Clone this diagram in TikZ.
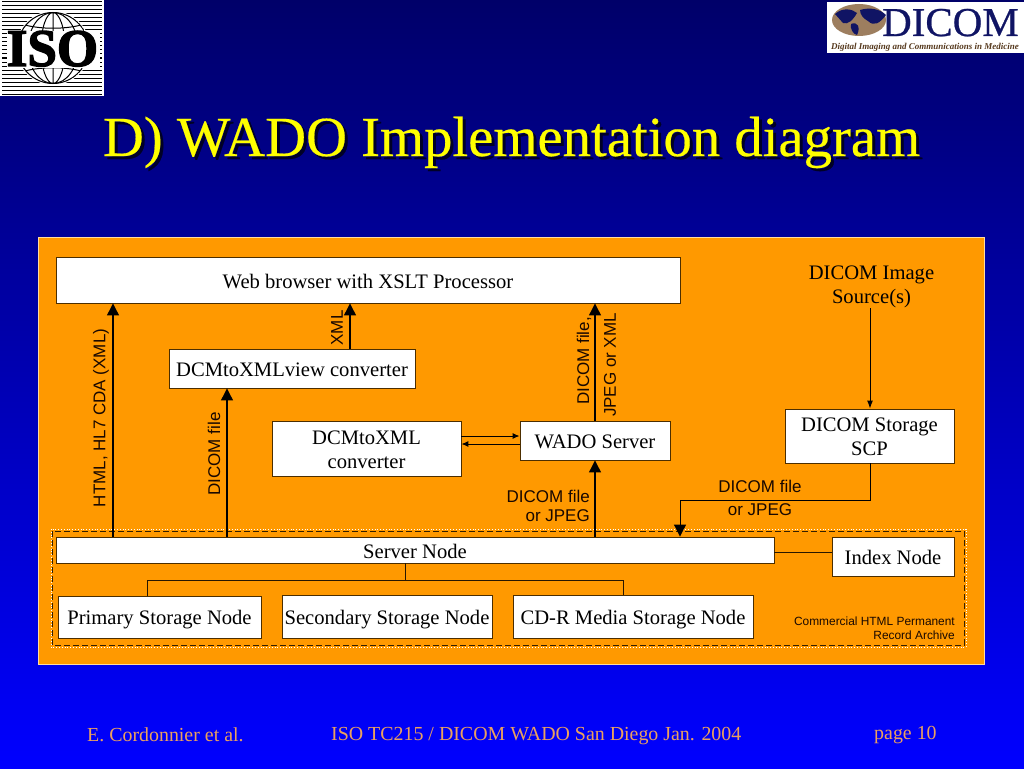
\documentclass[tikz,border=0pt]{standalone}
\usepackage{fontspec}
\setmainfont{Liberation Serif}
\newfontfamily\arialf{Liberation Sans}
\newfontfamily\isof[FakeBold=2.5]{Liberation Serif Bold}
\newfontfamily\dicomf[FakeBold=0.6]{Liberation Serif}
\newfontfamily\titlef[FakeBold=0.35]{Liberation Serif}
\usetikzlibrary{arrows.meta}
\definecolor{panel}{RGB}{255,153,0}
\definecolor{foot}{RGB}{235,160,95}
\definecolor{titley}{RGB}{255,255,0}
\definecolor{navy}{RGB}{16,20,100}
\definecolor{ink}{RGB}{25,8,0}
\newcommand\dn[2]{\raisebox{-#1pt}[\height][\depth]{#2}}
\tikzset{
 box/.style={draw=black!70!panel,line width=.9pt,fill=white,text=black,font=\fontsize{20.6}{24}\selectfont,align=center,inner sep=0pt},
 arr/.style={draw=black,line width=1.2pt,-{Triangle[length=12pt,width=12pt]}},
 thin arr/.style={draw=black,line width=1pt,-{Latex[length=7pt,width=6pt]}},
 wire/.style={draw=black!85!panel,line width=1pt},
 lab/.style={font=\arialf\fontsize{17}{20}\selectfont,text=ink,inner sep=0pt},
 foottext/.style={font=\fontsize{19.9}{22}\selectfont,text=foot,anchor=base west,inner sep=0pt},
}
\begin{document}
\begin{tikzpicture}[x=1pt,y=-1pt]
\useasboundingbox (0,0) rectangle (1024,768);
\shade[top color={rgb,255:red,0;green,0;blue,105},bottom color={rgb,255:red,0;green,0;blue,255}] (0,0) rectangle (1024,768);
% ISO logo
\fill[white] (0,0) rectangle (104,96);
\foreach \y in {2,6,10,14,18,22,26,30,34,38,42,46,50,54,58,62,66,70,74,78,82,86,90,94}
  \draw[black,line width=1pt] (2,\y) -- (102,\y);
\fill[white] (53,48) circle (37);
\begin{scope}
\clip (53,48) circle (36);
\draw[black,line width=1.1pt] (53,48) circle (35.5);
\draw[black,line width=1pt] (53,48) ellipse (12 and 35.5) (53,48) ellipse (25 and 35.5) (53,12) -- (53,84);
\draw[black,line width=1pt] (18,23) .. controls (38,30) and (68,30) .. (88,23);
\draw[black,line width=1pt] (18,73) .. controls (38,66) and (68,66) .. (88,73);
\end{scope}
\fill[white] (7,31) rectangle (100,68);
\node[inner sep=0pt,text=black,font=\isof\fontsize{53}{53}\selectfont,anchor=base] (iso) at (52.5,66) {ISO};
% DICOM logo
\fill[white] (827,2) rectangle (1024,53);
\fill[black!35!brown!75!white] (859,20) ellipse (27 and 16);
\fill[navy] (835,14) .. controls (843,7) and (852,9) .. (857,13) .. controls (853,20) and (848,25) .. (843,23) -- cycle;
\fill[navy] (851,24) .. controls (857,21) and (861,27) .. (857,35) .. controls (853,34) and (850,29) .. cycle;
\fill[navy] (860,10) .. controls (870,7) and (880,9) .. (886,15) .. controls (880,23) and (874,27) .. (868,21) .. controls (864,19) and (860,15) .. cycle;
\node[inner sep=0pt,text=navy,font=\dicomf\fontsize{41}{41}\selectfont,anchor=base east,text depth=0pt] (dic) at (1019,36) {DICOM};
\node[inner sep=0pt,text=black!55!brown,font=\itshape\bfseries\fontsize{9}{9}\selectfont,anchor=base,text height=6pt] (dictag) at (925,49) {Digital Imaging and Communications in Medicine};
% Title
\node[inner sep=0pt,text=black!85!blue,font=\titlef\fontsize{56.7}{60}\selectfont,anchor=base] at (514.5,159) {D) WADO Implementation diagram};
\node[inner sep=0pt,text=titley,font=\titlef\fontsize{56.7}{60}\selectfont,anchor=base] (title) at (511.5,156) {D) WADO Implementation diagram};
% Panel
\draw[draw={rgb,255:red,255;green,220;blue,160},line width=1pt,fill=panel] (38.5,237.5) rectangle (984.5,664);
\draw[white,line width=.8pt,dotted] (51,529) rectangle (966,647);
\draw[black!80!panel,line width=.9pt,dash pattern=on 6pt off 3pt] (52,531) rectangle (964,645);
% Nodes
\node[box,minimum width=624pt,minimum height=46pt] (web) at (368,280) {\dn{2}{Web browser with XSLT Processor}};
\node[box,minimum width=246pt,minimum height=39pt] (view) at (292,368.5) {\dn{1}{DCMtoXMLview converter}};
\node[box,minimum width=189pt,minimum height=55pt] (conv) at (366.5,448.5) {\dn{1}{DCMtoXML}\\\dn{1}{converter}};
\node[box,minimum width=150pt,minimum height=39pt] (wado) at (595,440.5) {\dn{1}{WADO Server}};
\node[box,minimum width=169pt,minimum height=54pt] (scp) at (869.5,436) {\dn{1}{DICOM Storage}\\\dn{1}{SCP}};
\node[inner sep=0pt,align=center,text=black,font=\fontsize{20.6}{24}\selectfont] (src) at (871.5,287) {DICOM Image\\Source(s)};
\node[box,minimum width=718pt,minimum height=26pt] (server) at (415,550) {\dn{1}{Server Node}};
\node[box,minimum width=122pt,minimum height=39pt] (index) at (893,556.5) {\dn{1}{Index Node}};
\node[box,minimum width=203pt,minimum height=42pt] (prim) at (159.5,617) {\dn{3}{Primary Storage Node}};
\node[box,minimum width=210pt,minimum height=43pt] (sec) at (387,616.5) {\dn{3}{Secondary Storage Node}};
\node[box,minimum width=240pt,minimum height=43pt] (cdr) at (633,616.5) {\dn{3}{CD-R Media Storage Node}};
% Connectors
\draw[arr] (113,0 |- server.north) -- (113,0 |- web.south);
\draw[arr] (227,0 |- server.north) -- (227,0 |- view.south);
\draw[arr] (350,0 |- view.north) -- (350,0 |- web.south);
\draw[arr] (wado.north) -- (wado.north |- web.south);
\draw[arr] (wado.south |- server.north) -- (wado.south);
\draw[thin arr] (conv.east |- 0,436) -- (wado.west |- 0,436);
\draw[thin arr] (wado.west |- 0,444) -- (conv.east |- 0,444);
\draw[draw=black,line width=1pt,-{Latex[length=8pt,width=6pt]}] (src.south -| 870,0) -- (870,0 |- scp.north);
\coordinate (bend1) at (870,500);
\coordinate (bend2) at (680,500);
\draw[draw=black,line width=1pt,-{Triangle[length=12pt,width=12pt]}] (870,0 |- scp.south) -- (bend1) -- (bend2) -- (680,0 |- server.north);
\draw[wire] (server.east |- 0,552) -- (index.west |- 0,552);
\coordinate (tree) at (405,580);
\draw[wire] (405,0 |- server.south) -- (tree);
\draw[wire] (147,0 |- prim.north) -- (147,580) -- (623,580) -- (623,0 |- cdr.north);
% Labels
\node[lab,rotate=90] (l1) at (101,418) {HTML, HL7 CDA (XML)};
\node[lab,rotate=90] (l2) at (214,454) {DICOM file};
\node[lab,rotate=90] (l3) at (337,328) {XML};
\node[lab,rotate=90] (l4) at (584,361) {DICOM file,};
\node[lab,rotate=90] (l5) at (610,365) {JPEG or XML};
\node[lab,anchor=east] (l6) at (590,496) {DICOM file};
\node[lab,anchor=east] (l7) at (590,516) {or JPEG};
\node[lab] (l8) at (760,486) {DICOM file};
\node[lab] (l9) at (760,510) {or JPEG};
\node[lab,anchor=east,font=\arialf\fontsize{11.9}{14}\selectfont] (l10) at (955,621) {Commercial HTML Permanent};
\node[lab,anchor=east,font=\arialf\fontsize{11.9}{14}\selectfont] (l11) at (955,635) {Record Archive};
% Footer
\node[foottext] (f1) at (87,741) {E. Cordonnier et al.};
\node[foottext] (f2) at (331,740) {ISO TC215 / DICOM WADO San Diego Jan. 2004};
\node[foottext] (f3) at (874,739) {page 10};
\end{tikzpicture}
\end{document}
